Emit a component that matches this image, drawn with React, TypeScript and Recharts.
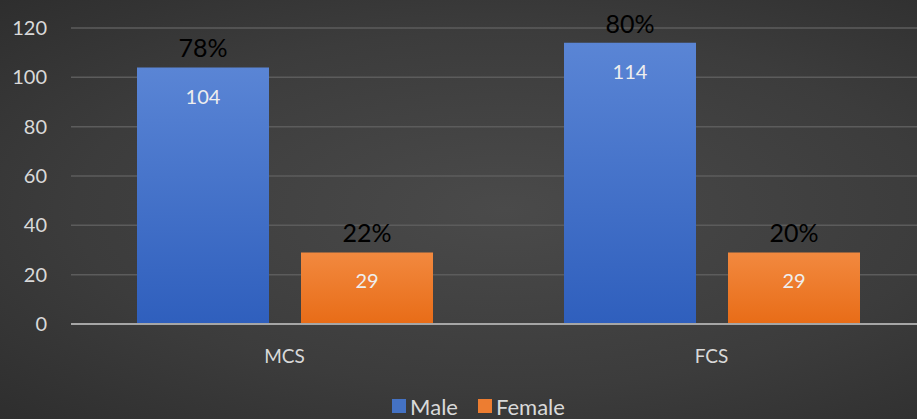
import { Bar, BarChart, CartesianGrid, LabelList, Legend, XAxis, YAxis } from "recharts";

const categories = ["MCS", "FCS"];
const maleCounts = [104, 114];
const femaleCounts = [29, 29];
const yTicks = [0, 20, 40, 60, 80, 100, 120];

const FONT = "Lato, 'Open Sans', sans-serif";

const pct = (part: number, total: number) => `${Math.round((part / total) * 100)}%`;

const data = categories.map((category, i) => ({
  category,
  Male: maleCounts[i],
  Female: femaleCounts[i],
  malePct: pct(maleCounts[i], maleCounts[i] + femaleCounts[i]),
  femalePct: pct(femaleCounts[i], maleCounts[i] + femaleCounts[i]),
}));

function ChartLegend() {
  const items = [
    { name: "Male", color: "#4472c4" },
    { name: "Female", color: "#ed7d31" },
  ];
  return (
    <div style={{ display: "flex", justifyContent: "center", gap: 20, paddingLeft: 32, height: 26, alignItems: "center" }}>
      {items.map((it) => (
        <span key={it.name} style={{ display: "flex", alignItems: "center", gap: 4, fontSize: 22, color: "#d9d9d9", fontFamily: FONT }}>
          <span style={{ width: 14, height: 14, background: it.color, display: "inline-block" }} />
          {it.name}
        </span>
      ))}
    </div>
  );
}

export default function App() {
  return (
    <div
      style={{
        position: "absolute",
        left: 0,
        top: 0,
        width: 917,
        height: 419,
        overflow: "hidden",
        background: "radial-gradient(ellipse at 55% 50%, #4a4a4a 0%, #3c3c3c 60%, #2e2e2e 100%)",
        fontFamily: FONT,
      }}
    >
      <BarChart
        width={927}
        height={419}
        data={data}
        margin={{ top: 28, right: 2, left: 0, bottom: 0 }}
        barSize={132}
        barGap={32}
      >
        <defs>
          <linearGradient id="maleFill" x1="0" y1="0" x2="0" y2="1">
            <stop offset="0%" stopColor="#5a85d5" />
            <stop offset="100%" stopColor="#2f5fbd" />
          </linearGradient>
          <linearGradient id="femaleFill" x1="0" y1="0" x2="0" y2="1">
            <stop offset="0%" stopColor="#f2893f" />
            <stop offset="100%" stopColor="#e86c17" />
          </linearGradient>
        </defs>
        <CartesianGrid vertical={false} stroke="#5c5c5c" strokeWidth={1.5} />
        <XAxis
          dataKey="category"
          height={69}
          axisLine={{ stroke: "#a6a6a6", strokeWidth: 2 }}
          tickLine={false}
          tickSize={0}
          tickMargin={26}
          tick={{ fontSize: 19, fill: "#d9d9d9", fontFamily: FONT }}
        />
        <YAxis
          width={71}
          domain={[0, 120]}
          ticks={yTicks}
          axisLine={false}
          tickLine={false}
          tickSize={0}
          tickMargin={24}
          tick={{ fontSize: 20, fill: "#d9d9d9", fontFamily: FONT }}
        />
        <Legend verticalAlign="bottom" content={<ChartLegend />} />
        <Bar dataKey="Male" fill="url(#maleFill)" isAnimationActive={false}>
          <LabelList dataKey="Male" position="insideTop" offset={22} fill="#eeeeee" fontSize={20} fontFamily={FONT} />
          <LabelList dataKey="malePct" position="top" offset={10} fill="#000000" fontSize={25} fontFamily={FONT} />
        </Bar>
        <Bar dataKey="Female" fill="url(#femaleFill)" isAnimationActive={false}>
          <LabelList dataKey="Female" position="insideTop" offset={21} fill="#eeeeee" fontSize={20} fontFamily={FONT} />
          <LabelList dataKey="femalePct" position="top" offset={10} fill="#000000" fontSize={25} fontFamily={FONT} />
        </Bar>
      </BarChart>
    </div>
  );
}
